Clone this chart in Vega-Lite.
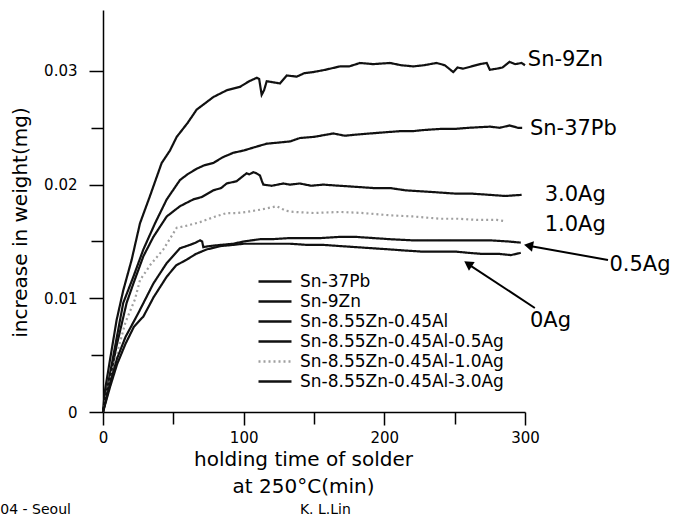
{
  "$schema": "https://vega.github.io/schema/vega-lite/v6.json",
  "width": 422,
  "height": 402,
  "autosize": {"type": "none"},
  "padding": {"left": 103, "top": 10, "right": 149, "bottom": 105},
  "background": "white",
  "config": {
    "view": {"stroke": null},
    "font": "DejaVu Sans",
    "axis": {
      "grid": false,
      "domainColor": "black",
      "domainWidth": 1.5,
      "tickColor": "black",
      "tickWidth": 1.5,
      "labelColor": "black",
      "labelFont": "DejaVu Sans",
      "labelFontSize": 15,
      "titleColor": "black",
      "titleFont": "DejaVu Sans",
      "titleFontWeight": "normal"
    }
  },
  "resolve": {"axis": {"x": "independent", "y": "independent"}},
  "datasets": {
    "curves": [
      {"alloy":"Sn-9Zn","t":0,"w":0},{"alloy":"Sn-9Zn","t":1.4,"w":0.0019},{"alloy":"Sn-9Zn","t":5,"w":0.0046},{"alloy":"Sn-9Zn","t":9.7,"w":0.0081},{"alloy":"Sn-9Zn","t":14.4,"w":0.0107},{"alloy":"Sn-9Zn","t":20.4,"w":0.0134},{"alloy":"Sn-9Zn","t":26.3,"w":0.0166},{"alloy":"Sn-9Zn","t":33.4,"w":0.019},{"alloy":"Sn-9Zn","t":41.7,"w":0.0219},{"alloy":"Sn-9Zn","t":47.6,"w":0.023},{"alloy":"Sn-9Zn","t":52.4,"w":0.0242},{"alloy":"Sn-9Zn","t":60,"w":0.0254},{"alloy":"Sn-9Zn","t":66.6,"w":0.0266},{"alloy":"Sn-9Zn","t":72,"w":0.0271},{"alloy":"Sn-9Zn","t":78.4,"w":0.0277},{"alloy":"Sn-9Zn","t":88,"w":0.0283},{"alloy":"Sn-9Zn","t":97.4,"w":0.0286},{"alloy":"Sn-9Zn","t":104,"w":0.0291},{"alloy":"Sn-9Zn","t":109.3,"w":0.0294},{"alloy":"Sn-9Zn","t":111,"w":0.0293},{"alloy":"Sn-9Zn","t":112.8,"w":0.0279},{"alloy":"Sn-9Zn","t":114.5,"w":0.0283},{"alloy":"Sn-9Zn","t":116.4,"w":0.0291},{"alloy":"Sn-9Zn","t":121,"w":0.029},{"alloy":"Sn-9Zn","t":125.8,"w":0.0289},{"alloy":"Sn-9Zn","t":130.6,"w":0.0296},{"alloy":"Sn-9Zn","t":137.7,"w":0.0295},{"alloy":"Sn-9Zn","t":143,"w":0.0298},{"alloy":"Sn-9Zn","t":149.5,"w":0.0299},{"alloy":"Sn-9Zn","t":158,"w":0.0301},{"alloy":"Sn-9Zn","t":168.5,"w":0.0304},{"alloy":"Sn-9Zn","t":175,"w":0.0304},{"alloy":"Sn-9Zn","t":182.7,"w":0.0307},{"alloy":"Sn-9Zn","t":192,"w":0.0306},{"alloy":"Sn-9Zn","t":204,"w":0.0307},{"alloy":"Sn-9Zn","t":212,"w":0.0305},{"alloy":"Sn-9Zn","t":220.6,"w":0.0304},{"alloy":"Sn-9Zn","t":228,"w":0.0305},{"alloy":"Sn-9Zn","t":237.2,"w":0.0307},{"alloy":"Sn-9Zn","t":243,"w":0.0305},{"alloy":"Sn-9Zn","t":249,"w":0.0299},{"alloy":"Sn-9Zn","t":252,"w":0.0303},{"alloy":"Sn-9Zn","t":256,"w":0.0302},{"alloy":"Sn-9Zn","t":262,"w":0.0304},{"alloy":"Sn-9Zn","t":268,"w":0.0306},{"alloy":"Sn-9Zn","t":272.8,"w":0.0307},{"alloy":"Sn-9Zn","t":275,"w":0.0301},{"alloy":"Sn-9Zn","t":280,"w":0.0302},{"alloy":"Sn-9Zn","t":284,"w":0.0303},{"alloy":"Sn-9Zn","t":289,"w":0.0308},{"alloy":"Sn-9Zn","t":293,"w":0.0306},{"alloy":"Sn-9Zn","t":297.6,"w":0.0307},{"alloy":"Sn-9Zn","t":300,"w":0.0305},
      {"alloy":"Sn-37Pb","t":0,"w":0},{"alloy":"Sn-37Pb","t":5,"w":0.0034},{"alloy":"Sn-37Pb","t":10,"w":0.0067},{"alloy":"Sn-37Pb","t":14.4,"w":0.0096},{"alloy":"Sn-37Pb","t":21.6,"w":0.0119},{"alloy":"Sn-37Pb","t":28.7,"w":0.0143},{"alloy":"Sn-37Pb","t":37,"w":0.0166},{"alloy":"Sn-37Pb","t":45.3,"w":0.0187},{"alloy":"Sn-37Pb","t":54.7,"w":0.0204},{"alloy":"Sn-37Pb","t":60,"w":0.0209},{"alloy":"Sn-37Pb","t":66.6,"w":0.0214},{"alloy":"Sn-37Pb","t":72,"w":0.0217},{"alloy":"Sn-37Pb","t":78.4,"w":0.0219},{"alloy":"Sn-37Pb","t":85,"w":0.0224},{"alloy":"Sn-37Pb","t":92.6,"w":0.0228},{"alloy":"Sn-37Pb","t":100,"w":0.023},{"alloy":"Sn-37Pb","t":108,"w":0.0233},{"alloy":"Sn-37Pb","t":116.4,"w":0.0236},{"alloy":"Sn-37Pb","t":125,"w":0.0237},{"alloy":"Sn-37Pb","t":133,"w":0.0238},{"alloy":"Sn-37Pb","t":140,"w":0.0241},{"alloy":"Sn-37Pb","t":150,"w":0.0242},{"alloy":"Sn-37Pb","t":163.7,"w":0.0245},{"alloy":"Sn-37Pb","t":172,"w":0.0243},{"alloy":"Sn-37Pb","t":180,"w":0.0244},{"alloy":"Sn-37Pb","t":190,"w":0.0245},{"alloy":"Sn-37Pb","t":200,"w":0.0246},{"alloy":"Sn-37Pb","t":211,"w":0.0247},{"alloy":"Sn-37Pb","t":220,"w":0.0247},{"alloy":"Sn-37Pb","t":227.7,"w":0.0248},{"alloy":"Sn-37Pb","t":240,"w":0.0249},{"alloy":"Sn-37Pb","t":250,"w":0.0249},{"alloy":"Sn-37Pb","t":260,"w":0.025},{"alloy":"Sn-37Pb","t":275,"w":0.0251},{"alloy":"Sn-37Pb","t":282,"w":0.025},{"alloy":"Sn-37Pb","t":289,"w":0.0252},{"alloy":"Sn-37Pb","t":295,"w":0.025},{"alloy":"Sn-37Pb","t":298,"w":0.025},
      {"alloy":"Sn-8.55Zn-0.45Al-3.0Ag","t":0,"w":0},{"alloy":"Sn-8.55Zn-0.45Al-3.0Ag","t":5,"w":0.003},{"alloy":"Sn-8.55Zn-0.45Al-3.0Ag","t":10,"w":0.006},{"alloy":"Sn-8.55Zn-0.45Al-3.0Ag","t":16.8,"w":0.0096},{"alloy":"Sn-8.55Zn-0.45Al-3.0Ag","t":21.6,"w":0.0113},{"alloy":"Sn-8.55Zn-0.45Al-3.0Ag","t":28.7,"w":0.0137},{"alloy":"Sn-8.55Zn-0.45Al-3.0Ag","t":35.8,"w":0.0154},{"alloy":"Sn-8.55Zn-0.45Al-3.0Ag","t":45.3,"w":0.0172},{"alloy":"Sn-8.55Zn-0.45Al-3.0Ag","t":54.7,"w":0.0181},{"alloy":"Sn-8.55Zn-0.45Al-3.0Ag","t":64.2,"w":0.0187},{"alloy":"Sn-8.55Zn-0.45Al-3.0Ag","t":70,"w":0.0189},{"alloy":"Sn-8.55Zn-0.45Al-3.0Ag","t":78.4,"w":0.0195},{"alloy":"Sn-8.55Zn-0.45Al-3.0Ag","t":84,"w":0.0197},{"alloy":"Sn-8.55Zn-0.45Al-3.0Ag","t":87.9,"w":0.0201},{"alloy":"Sn-8.55Zn-0.45Al-3.0Ag","t":95,"w":0.0203},{"alloy":"Sn-8.55Zn-0.45Al-3.0Ag","t":102.1,"w":0.021},{"alloy":"Sn-8.55Zn-0.45Al-3.0Ag","t":104,"w":0.0209},{"alloy":"Sn-8.55Zn-0.45Al-3.0Ag","t":106.9,"w":0.0211},{"alloy":"Sn-8.55Zn-0.45Al-3.0Ag","t":109,"w":0.021},{"alloy":"Sn-8.55Zn-0.45Al-3.0Ag","t":111.6,"w":0.0208},{"alloy":"Sn-8.55Zn-0.45Al-3.0Ag","t":113,"w":0.0203},{"alloy":"Sn-8.55Zn-0.45Al-3.0Ag","t":114,"w":0.02},{"alloy":"Sn-8.55Zn-0.45Al-3.0Ag","t":120,"w":0.0199},{"alloy":"Sn-8.55Zn-0.45Al-3.0Ag","t":128.2,"w":0.0201},{"alloy":"Sn-8.55Zn-0.45Al-3.0Ag","t":133,"w":0.02},{"alloy":"Sn-8.55Zn-0.45Al-3.0Ag","t":140,"w":0.0201},{"alloy":"Sn-8.55Zn-0.45Al-3.0Ag","t":148,"w":0.0199},{"alloy":"Sn-8.55Zn-0.45Al-3.0Ag","t":156.6,"w":0.02},{"alloy":"Sn-8.55Zn-0.45Al-3.0Ag","t":168,"w":0.0199},{"alloy":"Sn-8.55Zn-0.45Al-3.0Ag","t":180.4,"w":0.0198},{"alloy":"Sn-8.55Zn-0.45Al-3.0Ag","t":192,"w":0.0197},{"alloy":"Sn-8.55Zn-0.45Al-3.0Ag","t":204,"w":0.0197},{"alloy":"Sn-8.55Zn-0.45Al-3.0Ag","t":215,"w":0.0195},{"alloy":"Sn-8.55Zn-0.45Al-3.0Ag","t":227.7,"w":0.0194},{"alloy":"Sn-8.55Zn-0.45Al-3.0Ag","t":240,"w":0.0193},{"alloy":"Sn-8.55Zn-0.45Al-3.0Ag","t":251.4,"w":0.0192},{"alloy":"Sn-8.55Zn-0.45Al-3.0Ag","t":263,"w":0.0192},{"alloy":"Sn-8.55Zn-0.45Al-3.0Ag","t":275,"w":0.0191},{"alloy":"Sn-8.55Zn-0.45Al-3.0Ag","t":286,"w":0.019},{"alloy":"Sn-8.55Zn-0.45Al-3.0Ag","t":297.6,"w":0.0191},
      {"alloy":"Sn-8.55Zn-0.45Al-1.0Ag","t":0,"w":0},{"alloy":"Sn-8.55Zn-0.45Al-1.0Ag","t":5,"w":0.0028},{"alloy":"Sn-8.55Zn-0.45Al-1.0Ag","t":10,"w":0.0052},{"alloy":"Sn-8.55Zn-0.45Al-1.0Ag","t":16,"w":0.0079},{"alloy":"Sn-8.55Zn-0.45Al-1.0Ag","t":22.7,"w":0.0099},{"alloy":"Sn-8.55Zn-0.45Al-1.0Ag","t":26.3,"w":0.0116},{"alloy":"Sn-8.55Zn-0.45Al-1.0Ag","t":34,"w":0.013},{"alloy":"Sn-8.55Zn-0.45Al-1.0Ag","t":42.9,"w":0.0143},{"alloy":"Sn-8.55Zn-0.45Al-1.0Ag","t":52.4,"w":0.0162},{"alloy":"Sn-8.55Zn-0.45Al-1.0Ag","t":60,"w":0.0164},{"alloy":"Sn-8.55Zn-0.45Al-1.0Ag","t":69,"w":0.0167},{"alloy":"Sn-8.55Zn-0.45Al-1.0Ag","t":80,"w":0.0172},{"alloy":"Sn-8.55Zn-0.45Al-1.0Ag","t":88,"w":0.0175},{"alloy":"Sn-8.55Zn-0.45Al-1.0Ag","t":95,"w":0.0175},{"alloy":"Sn-8.55Zn-0.45Al-1.0Ag","t":102,"w":0.0176},{"alloy":"Sn-8.55Zn-0.45Al-1.0Ag","t":112,"w":0.0178},{"alloy":"Sn-8.55Zn-0.45Al-1.0Ag","t":123.5,"w":0.0181},{"alloy":"Sn-8.55Zn-0.45Al-1.0Ag","t":130,"w":0.0177},{"alloy":"Sn-8.55Zn-0.45Al-1.0Ag","t":135.3,"w":0.0176},{"alloy":"Sn-8.55Zn-0.45Al-1.0Ag","t":150,"w":0.0175},{"alloy":"Sn-8.55Zn-0.45Al-1.0Ag","t":168.5,"w":0.0176},{"alloy":"Sn-8.55Zn-0.45Al-1.0Ag","t":185,"w":0.0175},{"alloy":"Sn-8.55Zn-0.45Al-1.0Ag","t":204,"w":0.0173},{"alloy":"Sn-8.55Zn-0.45Al-1.0Ag","t":220,"w":0.0172},{"alloy":"Sn-8.55Zn-0.45Al-1.0Ag","t":239.6,"w":0.017},{"alloy":"Sn-8.55Zn-0.45Al-1.0Ag","t":252,"w":0.017},{"alloy":"Sn-8.55Zn-0.45Al-1.0Ag","t":265.6,"w":0.0169},{"alloy":"Sn-8.55Zn-0.45Al-1.0Ag","t":280,"w":0.0169},{"alloy":"Sn-8.55Zn-0.45Al-1.0Ag","t":285,"w":0.0168},
      {"alloy":"Sn-8.55Zn-0.45Al-0.5Ag","t":0,"w":0},{"alloy":"Sn-8.55Zn-0.45Al-0.5Ag","t":5,"w":0.0025},{"alloy":"Sn-8.55Zn-0.45Al-0.5Ag","t":10,"w":0.0047},{"alloy":"Sn-8.55Zn-0.45Al-0.5Ag","t":16,"w":0.0066},{"alloy":"Sn-8.55Zn-0.45Al-0.5Ag","t":25.1,"w":0.0087},{"alloy":"Sn-8.55Zn-0.45Al-0.5Ag","t":35.8,"w":0.0113},{"alloy":"Sn-8.55Zn-0.45Al-0.5Ag","t":45.3,"w":0.0131},{"alloy":"Sn-8.55Zn-0.45Al-0.5Ag","t":54.7,"w":0.0144},{"alloy":"Sn-8.55Zn-0.45Al-0.5Ag","t":61.8,"w":0.0147},{"alloy":"Sn-8.55Zn-0.45Al-0.5Ag","t":66,"w":0.0149},{"alloy":"Sn-8.55Zn-0.45Al-0.5Ag","t":69,"w":0.0151},{"alloy":"Sn-8.55Zn-0.45Al-0.5Ag","t":70.5,"w":0.015},{"alloy":"Sn-8.55Zn-0.45Al-0.5Ag","t":71.3,"w":0.0145},{"alloy":"Sn-8.55Zn-0.45Al-0.5Ag","t":76,"w":0.0146},{"alloy":"Sn-8.55Zn-0.45Al-0.5Ag","t":84,"w":0.0147},{"alloy":"Sn-8.55Zn-0.45Al-0.5Ag","t":92.6,"w":0.0148},{"alloy":"Sn-8.55Zn-0.45Al-0.5Ag","t":100,"w":0.015},{"alloy":"Sn-8.55Zn-0.45Al-0.5Ag","t":111.6,"w":0.0152},{"alloy":"Sn-8.55Zn-0.45Al-0.5Ag","t":120,"w":0.0152},{"alloy":"Sn-8.55Zn-0.45Al-0.5Ag","t":133,"w":0.0153},{"alloy":"Sn-8.55Zn-0.45Al-0.5Ag","t":140,"w":0.0153},{"alloy":"Sn-8.55Zn-0.45Al-0.5Ag","t":155,"w":0.0153},{"alloy":"Sn-8.55Zn-0.45Al-0.5Ag","t":168,"w":0.0154},{"alloy":"Sn-8.55Zn-0.45Al-0.5Ag","t":180,"w":0.0154},{"alloy":"Sn-8.55Zn-0.45Al-0.5Ag","t":192,"w":0.0153},{"alloy":"Sn-8.55Zn-0.45Al-0.5Ag","t":204,"w":0.0152},{"alloy":"Sn-8.55Zn-0.45Al-0.5Ag","t":220,"w":0.0151},{"alloy":"Sn-8.55Zn-0.45Al-0.5Ag","t":239.6,"w":0.0151},{"alloy":"Sn-8.55Zn-0.45Al-0.5Ag","t":255,"w":0.0151},{"alloy":"Sn-8.55Zn-0.45Al-0.5Ag","t":275,"w":0.0151},{"alloy":"Sn-8.55Zn-0.45Al-0.5Ag","t":288,"w":0.015},{"alloy":"Sn-8.55Zn-0.45Al-0.5Ag","t":297,"w":0.0149},
      {"alloy":"Sn-8.55Zn-0.45Al","t":0,"w":0},{"alloy":"Sn-8.55Zn-0.45Al","t":5,"w":0.0022},{"alloy":"Sn-8.55Zn-0.45Al","t":10,"w":0.0042},{"alloy":"Sn-8.55Zn-0.45Al","t":16,"w":0.006},{"alloy":"Sn-8.55Zn-0.45Al","t":22,"w":0.0075},{"alloy":"Sn-8.55Zn-0.45Al","t":28.7,"w":0.0084},{"alloy":"Sn-8.55Zn-0.45Al","t":36,"w":0.0101},{"alloy":"Sn-8.55Zn-0.45Al","t":45.3,"w":0.0119},{"alloy":"Sn-8.55Zn-0.45Al","t":52,"w":0.0129},{"alloy":"Sn-8.55Zn-0.45Al","t":59.5,"w":0.0134},{"alloy":"Sn-8.55Zn-0.45Al","t":66,"w":0.0139},{"alloy":"Sn-8.55Zn-0.45Al","t":73.7,"w":0.0143},{"alloy":"Sn-8.55Zn-0.45Al","t":84,"w":0.0146},{"alloy":"Sn-8.55Zn-0.45Al","t":92.6,"w":0.0147},{"alloy":"Sn-8.55Zn-0.45Al","t":100,"w":0.0148},{"alloy":"Sn-8.55Zn-0.45Al","t":111.6,"w":0.0148},{"alloy":"Sn-8.55Zn-0.45Al","t":122,"w":0.0148},{"alloy":"Sn-8.55Zn-0.45Al","t":133,"w":0.0148},{"alloy":"Sn-8.55Zn-0.45Al","t":145,"w":0.0147},{"alloy":"Sn-8.55Zn-0.45Al","t":156.6,"w":0.0147},{"alloy":"Sn-8.55Zn-0.45Al","t":168,"w":0.0146},{"alloy":"Sn-8.55Zn-0.45Al","t":180,"w":0.0145},{"alloy":"Sn-8.55Zn-0.45Al","t":192,"w":0.0144},{"alloy":"Sn-8.55Zn-0.45Al","t":204,"w":0.0143},{"alloy":"Sn-8.55Zn-0.45Al","t":215,"w":0.0142},{"alloy":"Sn-8.55Zn-0.45Al","t":227.7,"w":0.0141},{"alloy":"Sn-8.55Zn-0.45Al","t":240,"w":0.0141},{"alloy":"Sn-8.55Zn-0.45Al","t":251.4,"w":0.0141},{"alloy":"Sn-8.55Zn-0.45Al","t":260,"w":0.014},{"alloy":"Sn-8.55Zn-0.45Al","t":270,"w":0.0139},{"alloy":"Sn-8.55Zn-0.45Al","t":282,"w":0.0139},{"alloy":"Sn-8.55Zn-0.45Al","t":290,"w":0.0138},{"alloy":"Sn-8.55Zn-0.45Al","t":297,"w":0.014}
    ],
    "labels": [
      {"label": "Sn-9Zn", "t": 302, "w": 0.031},
      {"label": "Sn-37Pb", "t": 303.5, "w": 0.0249},
      {"label": "3.0Ag", "t": 314, "w": 0.0191},
      {"label": "1.0Ag", "t": 314, "w": 0.01645},
      {"label": "0.5Ag", "t": 360, "w": 0.0129},
      {"label": "0Ag", "t": 303.5, "w": 0.008}
    ],
    "footer": [
      {"label": "04 - Seoul", "t": -73, "w": -0.0086},
      {"label": "K. L.Lin", "t": 140, "w": -0.0086}
    ]
  },
  "layer": [
    {
      "data": {"name": "curves"},
      "mark": {"type": "line", "strokeWidth": 2.2},
      "encoding": {
        "x": {
          "field": "t", "type": "quantitative",
          "scale": {"domain": [0, 300], "nice": false, "zero": false},
          "axis": {
            "orient": "bottom",
            "values": [0, 100, 200, 300], "format": "d",
            "title": ["holding time of solder", "at 250°C(min)"],
            "titleFontSize": 20, "titleX": 200, "titleY": 37, "titleAlign": "center",
            "titleBaseline": "top", "titleLineHeight": 27,
            "tickSize": 13, "labelPadding": 5, "labelFlush": false
          }
        },
        "y": {
          "field": "w", "type": "quantitative",
          "scale": {"domain": [0, 0.03536], "nice": false, "zero": false},
          "axis": {
            "orient": "left",
            "values": [0, 0.01, 0.02, 0.03], "format": ".2~f",
            "title": "increase in weight(mg)",
            "titleFontSize": 20, "titleX": -83, "titleY": 212, "titleAngle": 270,
            "titleAlign": "center", "titleBaseline": "middle",
            "tickSize": 14, "labelPadding": 12
          }
        },
        "color": {
          "field": "alloy", "type": "nominal",
          "scale": {
            "domain": ["Sn-37Pb", "Sn-9Zn", "Sn-8.55Zn-0.45Al", "Sn-8.55Zn-0.45Al-0.5Ag", "Sn-8.55Zn-0.45Al-1.0Ag", "Sn-8.55Zn-0.45Al-3.0Ag"],
            "range": ["#111111", "#111111", "#111111", "#111111", "#a0a0a0", "#111111"]
          },
          "legend": {
            "orient": "none", "legendX": 160.5, "legendY": 260, "title": null,
            "symbolType": "M-1.65,0H1.65", "symbolSize": 400, "symbolStrokeWidth": 2.5,
            "labelFont": "DejaVu Sans", "labelFontSize": 17, "labelColor": "black", "labelLimit": 0,
            "labelOffset": 13.5, "rowPadding": 0, "padding": 0
          }
        },
        "strokeDash": {
          "field": "alloy", "type": "nominal",
          "scale": {
            "domain": ["Sn-37Pb", "Sn-9Zn", "Sn-8.55Zn-0.45Al", "Sn-8.55Zn-0.45Al-0.5Ag", "Sn-8.55Zn-0.45Al-1.0Ag", "Sn-8.55Zn-0.45Al-3.0Ag"],
            "range": [[1, 0], [1, 0], [1, 0], [1, 0], [2, 3], [1, 0]]
          },
          "legend": {
            "orient": "none", "legendX": 160.5, "legendY": 260, "title": null,
            "symbolType": "M-1.65,0H1.65", "symbolSize": 400, "symbolStrokeWidth": 2.5,
            "labelFont": "DejaVu Sans", "labelFontSize": 17, "labelColor": "black", "labelLimit": 0,
            "labelOffset": 13.5, "rowPadding": 0, "padding": 0
          }
        }
      }
    },
    {
      "data": {"name": "labels"},
      "mark": {"type": "text", "align": "left", "baseline": "middle", "font": "DejaVu Sans", "fontSize": 21, "color": "black"},
      "encoding": {
        "x": {"field": "t", "type": "quantitative", "axis": {"orient": "bottom", "values": [50, 150, 250], "labels": false, "domain": false, "title": null, "tickSize": 12}},
        "y": {"field": "w", "type": "quantitative", "axis": {"orient": "left", "values": [0.005, 0.015, 0.025], "labels": false, "domain": false, "title": null, "tickSize": 12}},
        "text": {"field": "label"}
      }
    },
    {
      "data": {"values": [{"t": 359, "w": 0.01337, "t2": 301.5, "w2": 0.01465}, {"t": 307, "w": 0.00915, "t2": 258.5, "w2": 0.0131}]},
      "mark": {"type": "rule", "strokeWidth": 2, "color": "black"},
      "encoding": {
        "x": {"field": "t", "type": "quantitative", "axis": null},
        "y": {"field": "w", "type": "quantitative", "axis": null},
        "x2": {"field": "t2"},
        "y2": {"field": "w2"}
      }
    },
    {
      "data": {"values": [{"t": 302.5, "w": 0.01463}]},
      "mark": {"type": "point", "shape": "triangle-left", "filled": true, "size": 110, "angle": 10.6, "color": "black", "opacity": 1},
      "encoding": {
        "x": {"field": "t", "type": "quantitative", "axis": null},
        "y": {"field": "w", "type": "quantitative", "axis": null}
      }
    },
    {
      "data": {"values": [{"t": 259.5, "w": 0.01303}]},
      "mark": {"type": "point", "shape": "triangle-left", "filled": true, "size": 110, "angle": 33.3, "color": "black", "opacity": 1},
      "encoding": {
        "x": {"field": "t", "type": "quantitative", "axis": null},
        "y": {"field": "w", "type": "quantitative", "axis": null}
      }
    },
    {
      "data": {"name": "footer"},
      "mark": {"type": "text", "align": "left", "baseline": "middle", "font": "DejaVu Sans", "fontSize": 14, "color": "black"},
      "encoding": {
        "x": {"field": "t", "type": "quantitative", "axis": null},
        "y": {"field": "w", "type": "quantitative", "axis": null},
        "text": {"field": "label"}
      }
    }
  ]
}
